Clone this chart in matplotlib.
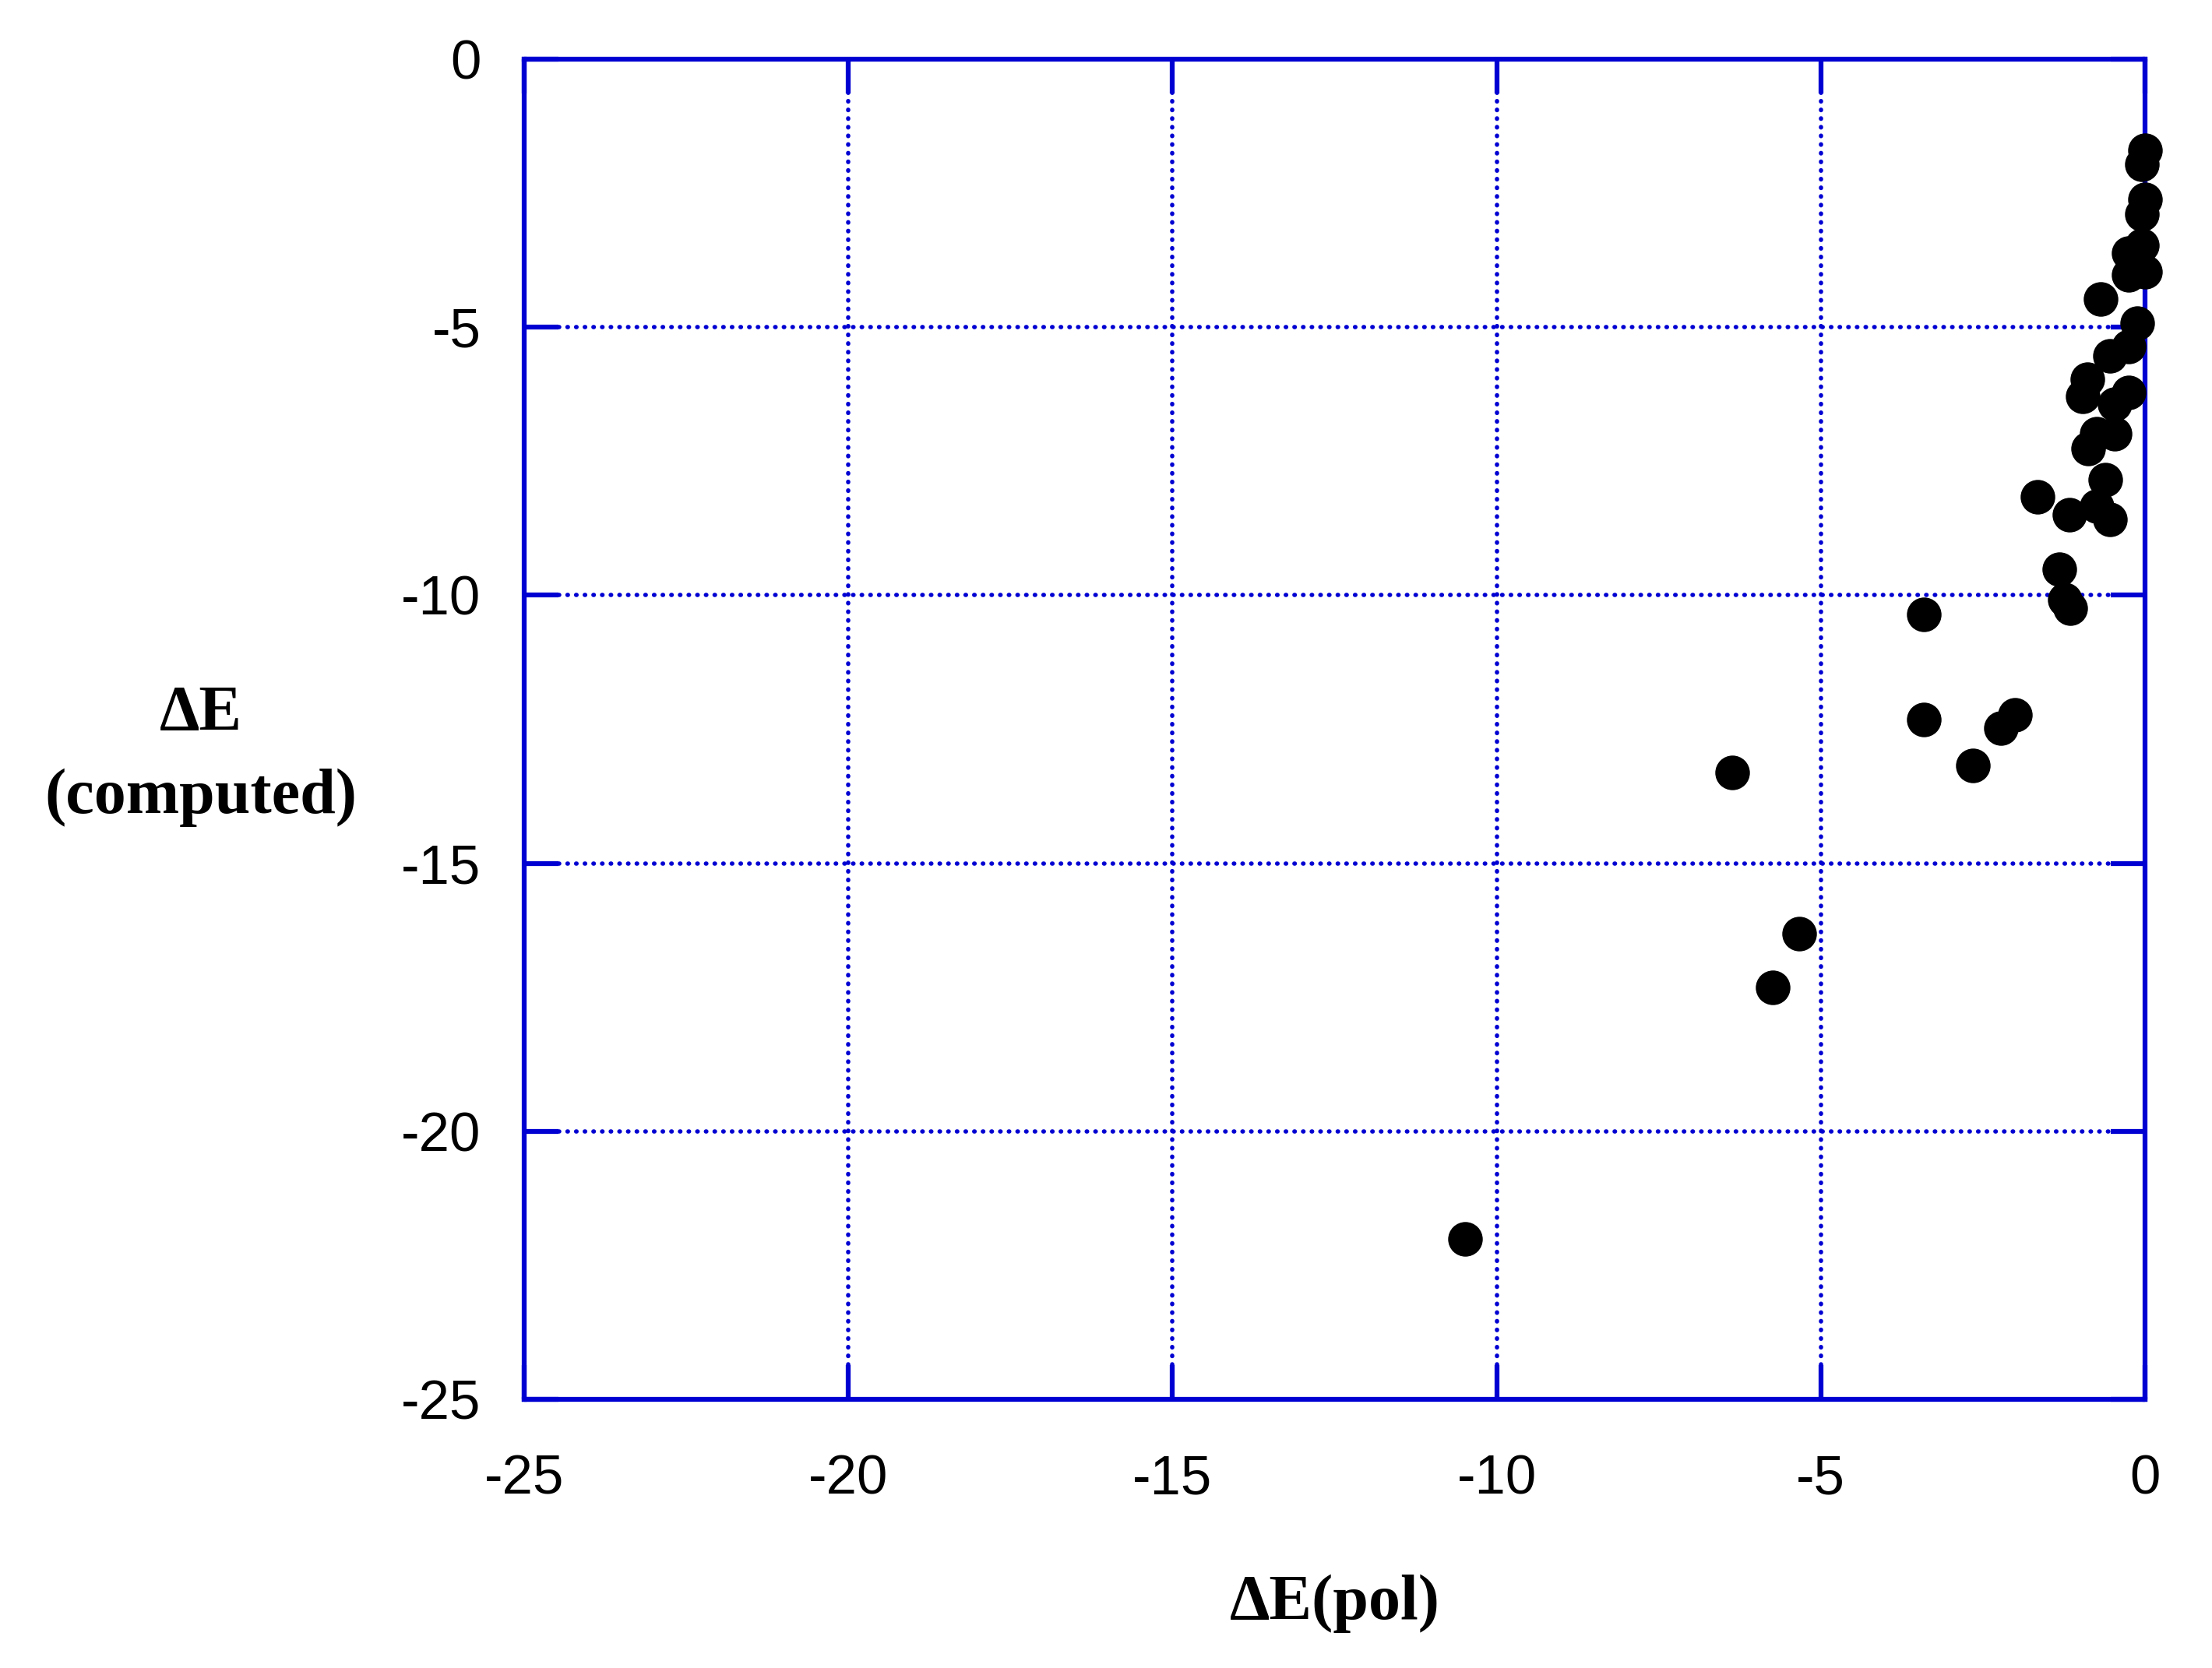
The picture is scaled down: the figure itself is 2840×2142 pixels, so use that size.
import matplotlib
matplotlib.use('Agg')
import matplotlib.pyplot as plt

plt.rcParams['axes.unicode_minus'] = False

# Data
x_pol = [0.00, -0.05, 0.00, -0.05, -0.05, -0.25, 0.00, -0.25, -0.69, -0.12,
         -0.25, -0.54, -0.89, -0.96, -0.25, -0.47, -0.88, -0.47, -0.75, -0.61,
         -1.66, -1.17, -0.75, -0.54, -1.32, -1.24, -1.15, -3.41, -3.41, -2.01,
         -2.22, -2.65, -6.37, -5.74, -5.33, -10.49]
y_computed = [-1.70, -1.96, -2.62, -2.89, -3.47, -3.62, -3.96, -4.03, -4.47, -4.93,
              -5.36, -5.54, -5.97, -6.29, -6.22, -6.44, -7.27, -6.98, -6.98, -7.84,
              -8.16, -8.50, -8.34, -8.58, -9.52, -10.08, -10.24, -10.36, -12.32, -12.23,
              -12.48, -13.17, -13.31, -17.31, -16.31, -22.01]

xticks = [-25, -20, -15, -10, -5, 0]
xtick_labels = ['-25', '-20', '-15', '-10', '-5', '0']
yticks = [-25, -20, -15, -10, -5, 0]
ytick_labels = ['-25', '-20', '-15', '-10', '-5', '0']

x_label = 'ΔE(pol)'
y_label = 'ΔE\n(computed)'

BLUE = '#0000D2'

fig = plt.figure(figsize=(28.4, 21.42), dpi=100)
ax = fig.add_axes([0.2370, 0.1611, 0.7327, 0.8034])

ax.plot(x_pol, y_computed, linestyle='none', marker='o', ms=32,
        color='black', mew=0, zorder=5, clip_on=False)

ax.set_xlim(-25, 0)
ax.set_ylim(-25, 0)
ax.set_xticks(xticks)
ax.set_xticklabels(xtick_labels)
ax.set_yticks(yticks)
ax.set_yticklabels(ytick_labels)

ax.set_axisbelow(True)
ax.grid(True, color=BLUE, linewidth=4.0, linestyle=(0, (0.1, 1.9)),
        dash_capstyle='round')

for s in ax.spines.values():
    s.set_color(BLUE)
    s.set_linewidth(4.5)

ax.tick_params(direction='in', length=32, width=4.5, color=BLUE,
               top=True, right=True, labelsize=51)
ax.tick_params(axis='x', pad=51)
ax.tick_params(axis='y', pad=40)
for lab in ax.get_xticklabels() + ax.get_yticklabels():
    lab.set_family('Liberation Sans')

ax.set_xlabel(x_label, fontsize=59, fontweight='bold', family='Liberation Serif')
ax.xaxis.set_label_coords(0.5, -0.164)
ax.xaxis.label.set_va('baseline')

ax.set_ylabel(y_label, rotation=0, fontsize=59, fontweight='bold',
              family='Liberation Serif', ha='center', va='top',
              linespacing=1.55, multialignment='center')
ax.yaxis.set_label_coords(-0.1994, 0.533)

fig.savefig('out.png', dpi=100)
